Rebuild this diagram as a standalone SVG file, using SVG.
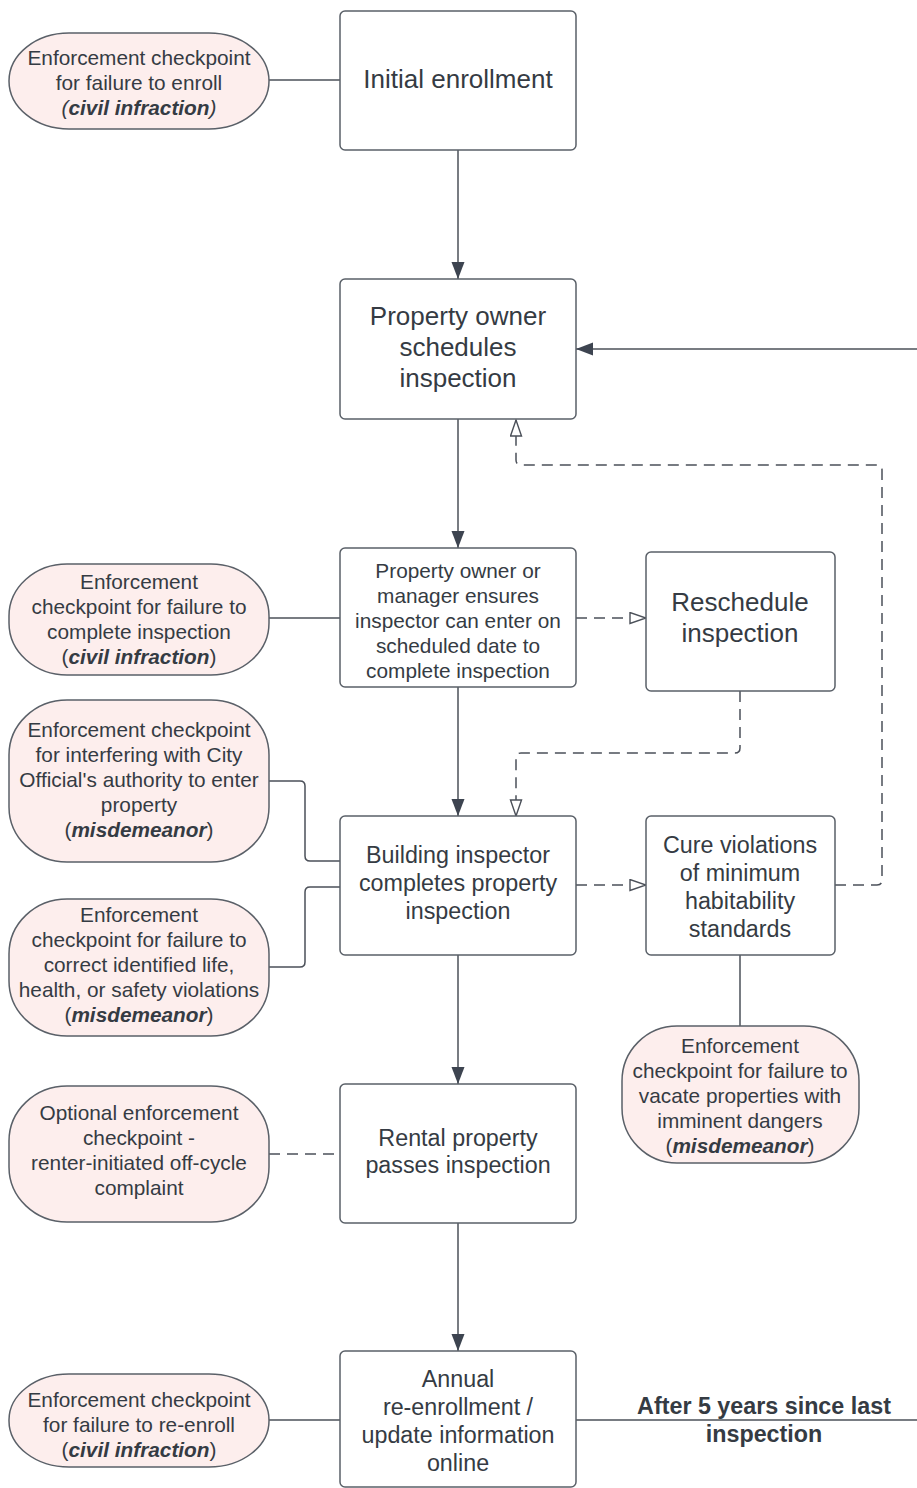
<svg xmlns="http://www.w3.org/2000/svg" width="917" height="1488" viewBox="0 0 917 1488">
<defs>
<style>
.box{fill:#ffffff;stroke:#5a6068;stroke-width:1.5}
.ov{fill:#fdeeed;stroke:#5a6068;stroke-width:1.5}
.ln{fill:none;stroke:#4b5059;stroke-width:1.5}
.dash{fill:none;stroke:#4b5059;stroke-width:1.5;stroke-dasharray:11 7}
text{font-family:"Liberation Sans",Arial,sans-serif;fill:#353b43;text-anchor:middle}
.s{font-size:20.8px}
.m{font-size:23.3px}
.l{font-size:26px}
.bi{font-weight:bold;font-style:italic}
.b{font-weight:bold}
</style>
<marker id="af" markerUnits="userSpaceOnUse" markerWidth="19" markerHeight="15" refX="17" refY="6.5" orient="auto">
<path d="M0,0 L17,6.5 L0,13 z" fill="#3d4450"/>
</marker>
<marker id="ah" markerUnits="userSpaceOnUse" markerWidth="19" markerHeight="14" refX="17" refY="6.5" orient="auto">
<path d="M1,1 L17,6.5 L1,12 z" fill="#ffffff" stroke="#4b5059" stroke-width="1.4"/>
</marker>
</defs>

<g id="connectors">
<path class="ln" d="M269,80 H340"/>
<path class="ln" d="M458,150 V279" marker-end="url(#af)"/>
<path class="ln" d="M917,349 H576" marker-end="url(#af)"/>
<path class="ln" d="M458,419 V548" marker-end="url(#af)"/>
<path class="dash" d="M835,885 H877 Q882,885 882,880 V470 Q882,465 877,465 H521 Q516,465 516,460 V420" marker-end="url(#ah)"/>
<path class="dash" d="M576,618 H646" marker-end="url(#ah)"/>
<path class="dash" d="M740,691 V748 Q740,753 735,753 H521 Q516,753 516,758 V816" marker-end="url(#ah)"/>
<path class="ln" d="M458,687 V816" marker-end="url(#af)"/>
<path class="ln" d="M269,618 H340"/>
<path class="ln" d="M269,781 H300 Q305,781 305,786 V856 Q305,861 310,861 H340"/>
<path class="ln" d="M269,967 H300 Q305,967 305,962 V892 Q305,887 310,887 H340"/>
<path class="dash" d="M576,885 H646" marker-end="url(#ah)"/>
<path class="ln" d="M740,955 V1026"/>
<path class="ln" d="M458,955 V1084" marker-end="url(#af)"/>
<path class="dash" d="M269,1154 H340"/>
<path class="ln" d="M458,1223 V1351" marker-end="url(#af)"/>
<path class="ln" d="M269,1420 H340"/>
<path class="ln" d="M576,1420 H917"/>
<text class="m b" x="764" y="1414">After 5 years since last</text>
<text class="m b" x="764" y="1442">inspection</text>
</g>

<g id="n-initial">
<rect class="box" x="340" y="11" width="236" height="139" rx="5"/>
<text class="l" x="458" y="88">Initial enrollment</text>
</g>
<g id="n-schedule">
<rect class="box" x="340" y="279" width="236" height="140" rx="5"/>
<text class="l" x="458" y="325">Property owner</text>
<text class="l" x="458" y="356">schedules</text>
<text class="l" x="458" y="387">inspection</text>
</g>
<g id="n-ensure">
<rect class="box" x="340" y="548" width="236" height="139" rx="5"/>
<text class="s" x="458" y="578">Property owner or</text>
<text class="s" x="458" y="603">manager ensures</text>
<text class="s" x="458" y="628">inspector can enter on</text>
<text class="s" x="458" y="653">scheduled date to</text>
<text class="s" x="458" y="678">complete inspection</text>
</g>
<g id="n-reschedule">
<rect class="box" x="646" y="552" width="189" height="139" rx="5"/>
<text class="l" x="740" y="611">Reschedule</text>
<text class="l" x="740" y="642">inspection</text>
</g>
<g id="n-building">
<rect class="box" x="340" y="816" width="236" height="139" rx="5"/>
<text class="m" x="458" y="863">Building inspector</text>
<text class="m" x="458" y="891">completes property</text>
<text class="m" x="458" y="919">inspection</text>
</g>
<g id="n-cure">
<rect class="box" x="646" y="816" width="189" height="139" rx="5"/>
<text class="m" x="740" y="853">Cure violations</text>
<text class="m" x="740" y="881">of minimum</text>
<text class="m" x="740" y="909">habitability</text>
<text class="m" x="740" y="937">standards</text>
</g>
<g id="n-passes">
<rect class="box" x="340" y="1084" width="236" height="139" rx="5"/>
<text class="m" x="458" y="1146">Rental property</text>
<text class="m" x="458" y="1173">passes inspection</text>
</g>
<g id="n-annual">
<rect class="box" x="340" y="1351" width="236" height="136" rx="5"/>
<text class="m" x="458" y="1387">Annual</text>
<text class="m" x="458" y="1415">re-enrollment /</text>
<text class="m" x="458" y="1443">update information</text>
<text class="m" x="458" y="1471">online</text>
</g>

<g id="e-enroll">
<rect class="ov" x="9" y="33" width="260" height="96" rx="60" ry="48"/>
<text class="s" x="139" y="65">Enforcement checkpoint</text>
<text class="s" x="139" y="90">for failure to enroll</text>
<text class="s" x="139" y="115"><tspan font-style="italic">(</tspan><tspan class="bi">civil infraction</tspan><tspan font-style="italic">)</tspan></text>
</g>
<g id="e-complete">
<rect class="ov" x="9" y="564" width="260" height="111" rx="58" ry="52"/>
<text class="s" x="139" y="589">Enforcement</text>
<text class="s" x="139" y="614">checkpoint for failure to</text>
<text class="s" x="139" y="639">complete inspection</text>
<text class="s" x="139" y="664">(<tspan class="bi">civil infraction</tspan>)</text>
</g>
<g id="e-interfere">
<rect class="ov" x="9" y="700" width="260" height="162" rx="58" ry="55"/>
<text class="s" x="139" y="737">Enforcement checkpoint</text>
<text class="s" x="139" y="762">for interfering with City</text>
<text class="s" x="139" y="787">Official's authority to enter</text>
<text class="s" x="139" y="812">property</text>
<text class="s" x="139" y="837">(<tspan class="bi">misdemeanor</tspan>)</text>
</g>
<g id="e-correct">
<rect class="ov" x="9" y="899" width="260" height="137" rx="58" ry="55"/>
<text class="s" x="139" y="922">Enforcement</text>
<text class="s" x="139" y="947">checkpoint for failure to</text>
<text class="s" x="139" y="972">correct identified life,</text>
<text class="s" x="139" y="997">health, or safety violations</text>
<text class="s" x="139" y="1022">(<tspan class="bi">misdemeanor</tspan>)</text>
</g>
<g id="e-vacate">
<rect class="ov" x="622" y="1026" width="237" height="137" rx="55" ry="55"/>
<text class="s" x="740" y="1053">Enforcement</text>
<text class="s" x="740" y="1078">checkpoint for failure to</text>
<text class="s" x="740" y="1103">vacate properties with</text>
<text class="s" x="740" y="1128">imminent dangers</text>
<text class="s" x="740" y="1153">(<tspan class="bi">misdemeanor</tspan>)</text>
</g>
<g id="e-optional">
<rect class="ov" x="9" y="1086" width="260" height="136" rx="58" ry="55"/>
<text class="s" x="139" y="1120">Optional enforcement</text>
<text class="s" x="139" y="1145">checkpoint -</text>
<text class="s" x="139" y="1170">renter-initiated off-cycle</text>
<text class="s" x="139" y="1195">complaint</text>
</g>
<g id="e-reenroll">
<rect class="ov" x="9" y="1374" width="260" height="93" rx="60" ry="46"/>
<text class="s" x="139" y="1407">Enforcement checkpoint</text>
<text class="s" x="139" y="1432">for failure to re-enroll</text>
<text class="s" x="139" y="1457">(<tspan class="bi">civil infraction</tspan>)</text>
</g>
</svg>
